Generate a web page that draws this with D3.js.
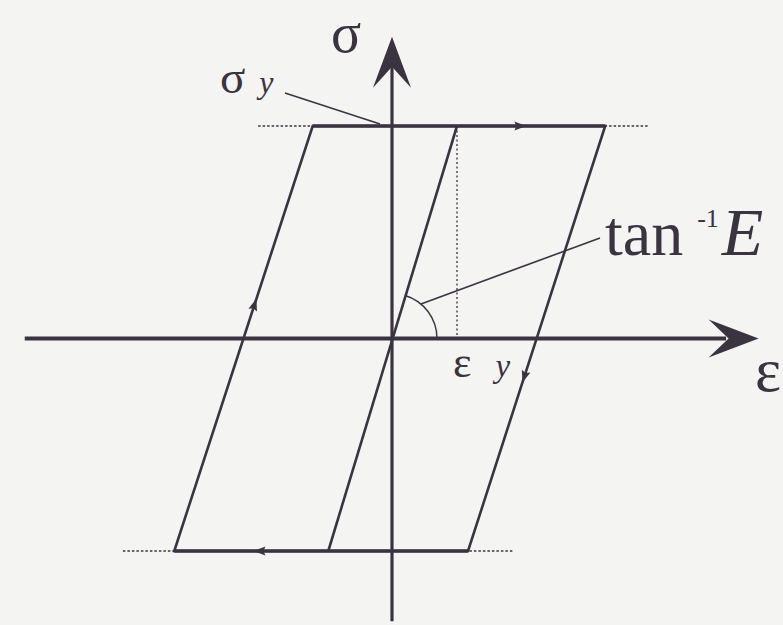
<!DOCTYPE html>
<html>
<head>
<meta charset="utf-8">
<script src="https://cdn.jsdelivr.net/npm/d3@7"></script>
<style>
  html, body { margin: 0; padding: 0; background: #f4f4f2; }
  svg { display: block; }
  text { font-family: "Liberation Serif", "DejaVu Serif", serif; fill: #3a3440; }
</style>
</head>
<body>
<svg id="chart" width="783" height="625"></svg>
<script>
// Elastic–perfectly-plastic hysteresis loop, strain in units of the yield strain, stress in units of yield stress
const loopStrain = [-1.22, 3.28, 1.17, -3.35];
const loopStress = [1, 1, -1, -1];

// initial elastic loading line through the origin
const elasticStrain = [-0.98, 1];
const elasticStress = [-1, 1];

// yield-stress guide lines (dotted)
const guideStrainTop = [-2.06, 3.94];
const guideStrainBottom = [-4.14, 1.86];
const guideStress = [1, -1];

// direction arrows along the loop: loop segment index and fraction along it
const arrowSegment = [0, 1, 2, 3];
const arrowFraction = [0.71, 0.59, 0.71, 0.58];

// axis extents
const strainAxisRange = [-5.65, 5.64];
const stressAxisRange = [-1.33, 1.42];

const ink = "#3a3440";
const svg = d3.select("#chart");

const x = d3.scaleLinear().domain([0, 1]).range([392, 457]);
const y = d3.scaleLinear().domain([-1, 1]).range([551, 126]);

const line = d3.line().x(d => x(d[0])).y(d => y(d[1]));

// dotted yield lines
guideStress.forEach((s, i) => {
  const ext = i === 0 ? guideStrainTop : guideStrainBottom;
  svg.append("path")
    .attr("d", line([[ext[0], s], [ext[1], s]]))
    .attr("stroke", ink).attr("stroke-width", 1.6)
    .attr("stroke-dasharray", "2.5,2").attr("fill", "none");
});

// dotted drop from yield point to the strain axis
svg.append("path")
  .attr("d", line([[elasticStrain[1], elasticStress[1]], [elasticStrain[1], 0]]))
  .attr("stroke", ink).attr("stroke-width", 1.3)
  .attr("stroke-dasharray", "2,2.5").attr("fill", "none");

// axes
svg.append("path")
  .attr("d", line([[strainAxisRange[0], 0], [strainAxisRange[1] - 0.5, 0]]))
  .attr("stroke", ink).attr("stroke-width", 4).attr("fill", "none");
svg.append("path")
  .attr("d", line([[0, stressAxisRange[0]], [0, stressAxisRange[1] - 0.1]]))
  .attr("stroke", ink).attr("stroke-width", 3.2).attr("fill", "none");

// axis arrowheads (barbed)
const xe = x(strainAxisRange[1]), y0 = y(0);
svg.append("path")
  .attr("d", `M${xe},${y0} L${xe - 50},${y0 - 19} L${xe - 30},${y0} L${xe - 50},${y0 + 19} Z`)
  .attr("fill", ink);
const ye = y(stressAxisRange[1]), x0 = x(0);
svg.append("path")
  .attr("d", `M${x0},${ye} L${x0 - 19},${ye + 51} L${x0},${ye + 30} L${x0 + 19},${ye + 51} Z`)
  .attr("fill", ink);

// loop
const loopPts = loopStrain.map((e, i) => [e, loopStress[i]]);
svg.append("path")
  .attr("d", line(loopPts) + "Z")
  .attr("stroke", ink).attr("stroke-width", 2.6)
  .attr("stroke-linejoin", "miter").attr("fill", "none");
// heavier plastic flow segments
[[0, 1], [2, 3]].forEach(([a, b]) => {
  svg.append("path")
    .attr("d", line([loopPts[a], loopPts[b]]))
    .attr("stroke", ink).attr("stroke-width", 3.4).attr("fill", "none");
});

// elastic line
svg.append("path")
  .attr("d", line(elasticStrain.map((e, i) => [e, elasticStress[i]])))
  .attr("stroke", ink).attr("stroke-width", 2.6).attr("fill", "none");

// direction arrows
arrowSegment.forEach((s, i) => {
  const p = loopPts[s], q = loopPts[(s + 1) % loopPts.length];
  const t = arrowFraction[i];
  const px = x(p[0]) + (x(q[0]) - x(p[0])) * t;
  const py = y(p[1]) + (y(q[1]) - y(p[1])) * t;
  const ang = Math.atan2(y(q[1]) - y(p[1]), x(q[0]) - x(p[0])) * 180 / Math.PI;
  svg.append("path")
    .attr("d", "M6,0 L-6,-4.5 L-4,0 L-6,4.5 Z")
    .attr("transform", `translate(${px},${py}) rotate(${ang})`)
    .attr("fill", ink);
});

// angle arc for tan^-1 E
const slopeAngle = Math.atan2(y(0) - y(elasticStress[1]), x(elasticStrain[1]) - x(0));
const r = 45;
svg.append("path")
  .attr("d", `M${x0 + r},${y0} A${r},${r} 0 0 0 ${x0 + r * Math.cos(slopeAngle)},${y0 - r * Math.sin(slopeAngle)}`)
  .attr("stroke", ink).attr("stroke-width", 1.4).attr("fill", "none");

// leader lines
svg.append("line").attr("x1", 285).attr("y1", 93).attr("x2", 380).attr("y2", 124)
  .attr("stroke", ink).attr("stroke-width", 1.6);
svg.append("line").attr("x1", 421).attr("y1", 304).attr("x2", 600).attr("y2", 238)
  .attr("stroke", ink).attr("stroke-width", 1.6);

// labels
svg.append("text").attr("x", 331).attr("y", 52).attr("font-size", 56).text("σ");
svg.append("text").attr("x", 755).attr("y", 391).attr("font-size", 62).text("ε");

const sy = svg.append("text").attr("x", 220).attr("y", 93).attr("font-size", 47);
sy.append("tspan").text("σ");
sy.append("tspan").attr("dx", 14).attr("font-size", 32).attr("font-style", "italic").text("y");

const ey = svg.append("text").attr("x", 453).attr("y", 377).attr("font-size", 44);
ey.append("tspan").text("ε");
ey.append("tspan").attr("dx", 24).attr("font-size", 33).attr("font-style", "italic").text("y");

const te = svg.append("text").attr("x", 605).attr("y", 255).attr("font-size", 64);
te.append("tspan").text("tan");
te.append("tspan").attr("dx", 14).attr("dy", -28).attr("font-size", 26).text("-1");
te.append("tspan").attr("dx", 3).attr("dy", 28).attr("font-style", "italic").attr("font-size", 68).text("E");
</script>
</body>
</html>
